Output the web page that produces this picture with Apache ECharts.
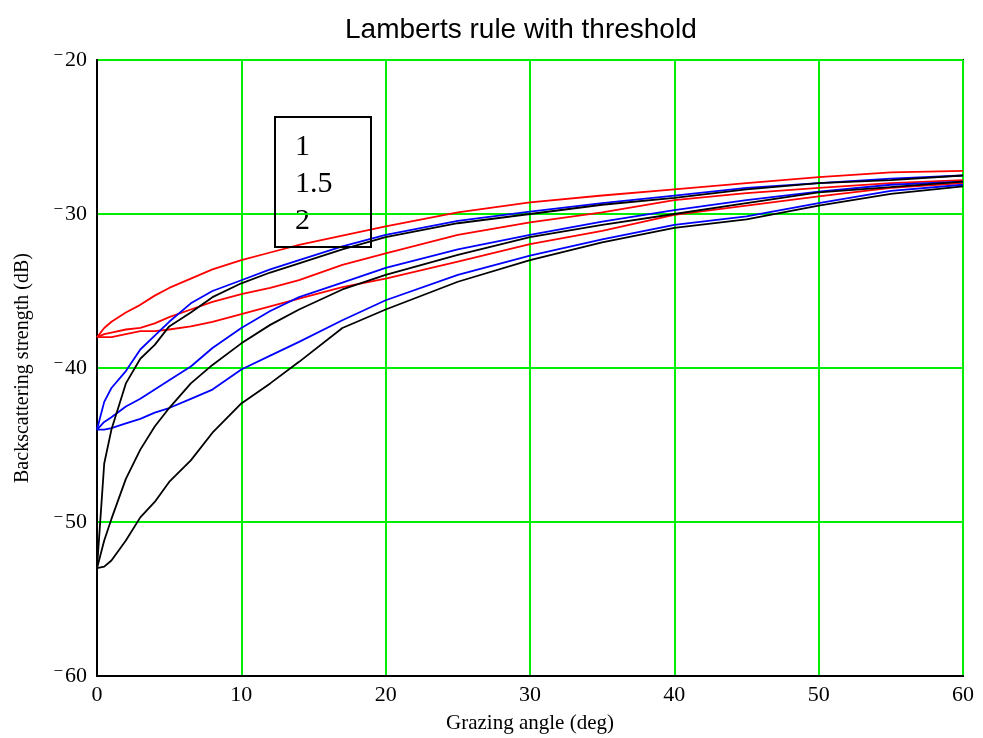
<!DOCTYPE html>
<html>
<head>
<meta charset="utf-8">
<title>Lamberts rule with threshold</title>
<script src="https://cdn.jsdelivr.net/npm/echarts@6/dist/echarts.min.js"></script>
<style>
  html, body { margin: 0; padding: 0; background: #fff; }
  #chart { width: 983px; height: 738px; }
</style>
</head>
<body>
<div id="chart"></div>
<script>
const angles = [0, 0.5, 1, 2, 3, 4, 5, 6.5, 8, 10, 12, 14, 17, 20, 25, 30, 35, 40, 45, 50, 55, 60];

// red curves (threshold -38 dB)
const redTop = [-38, -37.4, -37.0, -36.4, -35.9, -35.3, -34.8, -34.2, -33.6, -33.0, -32.5, -32.0, -31.4, -30.8, -29.9, -29.25, -28.8, -28.4, -28.0, -27.6, -27.3, -27.2];
const redMid = [-38, -37.8, -37.7, -37.5, -37.4, -37.1, -36.7, -36.2, -35.7, -35.2, -34.8, -34.3, -33.3, -32.55, -31.35, -30.55, -29.9, -29.1, -28.65, -28.3, -28.0, -27.8];
const redLow = [-38, -38, -38, -37.8, -37.6, -37.6, -37.5, -37.3, -37.0, -36.5, -36.0, -35.5, -34.75, -34.2, -33.1, -31.95, -31.1, -30.05, -29.45, -28.85, -28.3, -28.0];

// blue curves (threshold -44 dB)
const blueTop = [-44, -42.2, -41.3, -40.2, -38.8, -37.9, -37.0, -35.8, -35.0, -34.3, -33.6, -33.0, -32.1, -31.35, -30.45, -29.85, -29.3, -28.8, -28.3, -28.0, -27.7, -27.5];
const blueMid = [-44, -43.5, -43.2, -42.5, -42.0, -41.4, -40.8, -39.9, -38.7, -37.4, -36.3, -35.4, -34.45, -33.5, -32.3, -31.35, -30.5, -29.75, -29.1, -28.55, -28.1, -27.9];
const blueLow = [-44, -44, -43.9, -43.6, -43.3, -42.9, -42.6, -42.0, -41.4, -40.1, -39.2, -38.3, -36.9, -35.6, -33.95, -32.7, -31.65, -30.7, -30.15, -29.3, -28.5, -28.1];

// black curves (threshold -53 dB)
const blackTop = [-53, -46.2, -44.0, -41.0, -39.4, -38.5, -37.3, -36.4, -35.4, -34.5, -33.8, -33.2, -32.3, -31.5, -30.6, -30.0, -29.4, -28.95, -28.4, -28.0, -27.8, -27.5];
const blackMid = [-53, -51.2, -49.8, -47.2, -45.3, -43.8, -42.6, -41.0, -39.8, -38.4, -37.2, -36.2, -34.9, -33.95, -32.65, -31.5, -30.7, -30.0, -29.3, -28.6, -28.25, -27.9];
const blackLow = [-53, -52.9, -52.5, -51.2, -49.7, -48.7, -47.4, -46.0, -44.2, -42.3, -41.0, -39.6, -37.4, -36.2, -34.4, -33.0, -31.85, -30.9, -30.35, -29.45, -28.7, -28.2];

const legendLabels = ['1', '1.5', '2'];

const chart = echarts.init(document.getElementById('chart'));

function pair(ys) {
  return angles.map((a, i) => [a, ys[i]]);
}
function line(name, ys, color) {
  return {
    name: name,
    type: 'line',
    data: pair(ys),
    showSymbol: false,
    symbol: 'none',
    lineStyle: { color: color, width: 1.8 },
    itemStyle: { color: color },
    animation: false
  };
}

const serif = '"Liberation Serif", "DejaVu Serif", serif';

chart.setOption({
  backgroundColor: '#fff',
  title: {
    text: 'Lamberts rule with threshold',
    left: 340,
    top: 11,
    textStyle: { fontFamily: '"Liberation Sans", Arial, sans-serif', fontSize: 28, fontWeight: 'normal', color: '#000' }
  },
  grid: {
    left: 97, top: 60, right: 20, bottom: 62,
    containLabel: false, outerBoundsMode: 'none',
    show: true, borderColor: '#000', borderWidth: 2, backgroundColor: '#fff'
  },
  xAxis: {
    type: 'value', min: 0, max: 60, interval: 10,
    name: 'Grazing angle (deg)', nameLocation: 'middle', nameGap: 37,
    nameTextStyle: { fontFamily: serif, fontSize: 21, color: '#000' },
    axisLine: { lineStyle: { color: '#000', width: 2 } },
    axisTick: { show: false },
    axisLabel: { fontFamily: serif, fontSize: 22, color: '#000', margin: 8 },
    splitLine: { lineStyle: { color: '#00ee00', width: 2 } }
  },
  yAxis: {
    type: 'value', min: -60, max: -20, interval: 10,
    name: 'Backscattering strength (dB)', nameLocation: 'middle', nameGap: 64,
    nameTextStyle: { fontFamily: serif, fontSize: 20, color: '#000' },
    axisLine: { lineStyle: { color: '#000', width: 2 } },
    axisTick: { show: false },
    axisLabel: {
      margin: 10,
      formatter: function (v) {
        return v < 0 ? '{m|\u2212}{d|' + Math.abs(v) + '}' : '{d|' + v + '}';
      },
      rich: {
        m: { fontFamily: serif, fontSize: 17, color: '#000', padding: [0, 2, 9, 0] },
        d: { fontFamily: serif, fontSize: 22, color: '#000' }
      }
    },
    splitLine: { lineStyle: { color: '#00ee00', width: 2 } }
  },
  series: [
    line('red 1', redTop, '#ff0000'),
    line('red 1.5', redMid, '#ff0000'),
    line('red 2', redLow, '#ff0000'),
    line('blue 1', blueTop, '#0000ff'),
    line('blue 1.5', blueMid, '#0000ff'),
    line('blue 2', blueLow, '#0000ff'),
    line('black 1', blackTop, '#000000'),
    line('black 1.5', blackMid, '#000000'),
    line('black 2', blackLow, '#000000')
  ],
  graphic: [
    {
      type: 'rect', left: 274, top: 116, z: 100,
      shape: { width: 96, height: 130 },
      style: { fill: 'transparent', stroke: '#000', lineWidth: 2 }
    },
    {
      type: 'group', left: 295, top: 132, z: 101,
      children: legendLabels.map((t, i) => ({
        type: 'text', left: 0, top: i * 37,
        style: { text: t, font: '30px "Liberation Serif", serif', fill: '#000' }
      }))
    }
  ]
});

window.onresize = function () { chart.resize(); };
</script>
</body>
</html>
